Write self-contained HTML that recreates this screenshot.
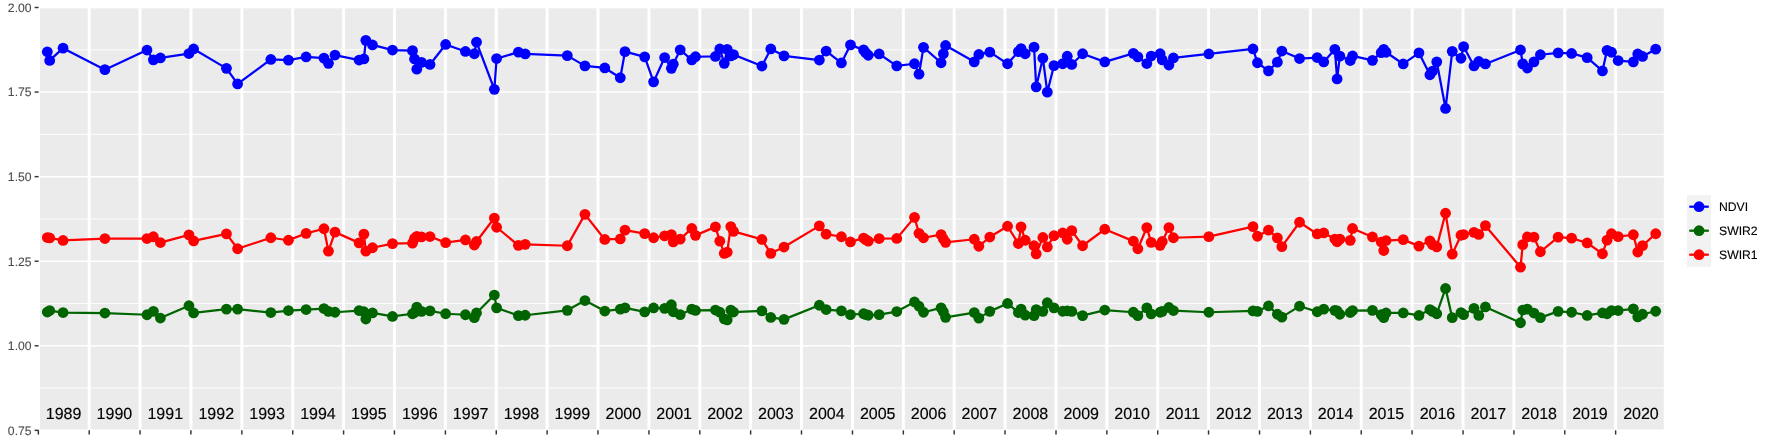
<!DOCTYPE html>
<html><head><meta charset="utf-8"><title>plot</title>
<style>
html,body{margin:0;padding:0;background:#fff;}
body{width:1773px;height:442px;overflow:hidden;}
svg{display:block;}
text{font-family:"Liberation Sans",sans-serif;text-rendering:geometricPrecision;}
svg text{filter:blur(0.01px);}
</style></head><body>
<svg width="1773" height="442" viewBox="0 0 1773 442">
<rect x="0" y="0" width="1773" height="442" fill="#ffffff"/>
<defs><clipPath id="pc"><rect x="40.0" y="8.2" width="1623.80" height="421.55"/></clipPath></defs>
<rect x="40.0" y="8.2" width="1623.80" height="421.55" fill="#EBEBEB"/>
<g clip-path="url(#pc)" stroke="#ffffff" fill="none">
<line x1="38.35" x2="1663.8" y1="388.07" y2="388.07" stroke-width="0.85"/>
<line x1="38.35" x2="1663.8" y1="303.50" y2="303.50" stroke-width="0.85"/>
<line x1="38.35" x2="1663.8" y1="218.93" y2="218.93" stroke-width="0.85"/>
<line x1="38.35" x2="1663.8" y1="134.36" y2="134.36" stroke-width="0.85"/>
<line x1="38.35" x2="1663.8" y1="49.79" y2="49.79" stroke-width="0.85"/>
<line x1="38.35" x2="1663.8" y1="430.35" y2="430.35" stroke-width="1.5"/>
<line x1="38.35" x2="1663.8" y1="345.78" y2="345.78" stroke-width="1.5"/>
<line x1="38.35" x2="1663.8" y1="261.21" y2="261.21" stroke-width="1.5"/>
<line x1="38.35" x2="1663.8" y1="176.64" y2="176.64" stroke-width="1.5"/>
<line x1="38.35" x2="1663.8" y1="92.07" y2="92.07" stroke-width="1.5"/>
<line x1="38.35" x2="1663.8" y1="7.50" y2="7.50" stroke-width="1.5"/>
<line x1="38.35" x2="38.35" y1="7.5" y2="430.35" stroke-width="3"/>
<line x1="89.20" x2="89.20" y1="7.5" y2="430.35" stroke-width="3"/>
<line x1="140.05" x2="140.05" y1="7.5" y2="430.35" stroke-width="3"/>
<line x1="190.89" x2="190.89" y1="7.5" y2="430.35" stroke-width="3"/>
<line x1="241.88" x2="241.88" y1="7.5" y2="430.35" stroke-width="3"/>
<line x1="292.73" x2="292.73" y1="7.5" y2="430.35" stroke-width="3"/>
<line x1="343.58" x2="343.58" y1="7.5" y2="430.35" stroke-width="3"/>
<line x1="394.43" x2="394.43" y1="7.5" y2="430.35" stroke-width="3"/>
<line x1="445.41" x2="445.41" y1="7.5" y2="430.35" stroke-width="3"/>
<line x1="496.26" x2="496.26" y1="7.5" y2="430.35" stroke-width="3"/>
<line x1="547.11" x2="547.11" y1="7.5" y2="430.35" stroke-width="3"/>
<line x1="597.96" x2="597.96" y1="7.5" y2="430.35" stroke-width="3"/>
<line x1="648.95" x2="648.95" y1="7.5" y2="430.35" stroke-width="3"/>
<line x1="699.79" x2="699.79" y1="7.5" y2="430.35" stroke-width="3"/>
<line x1="750.64" x2="750.64" y1="7.5" y2="430.35" stroke-width="3"/>
<line x1="801.49" x2="801.49" y1="7.5" y2="430.35" stroke-width="3"/>
<line x1="852.48" x2="852.48" y1="7.5" y2="430.35" stroke-width="3"/>
<line x1="903.33" x2="903.33" y1="7.5" y2="430.35" stroke-width="3"/>
<line x1="954.17" x2="954.17" y1="7.5" y2="430.35" stroke-width="3"/>
<line x1="1005.02" x2="1005.02" y1="7.5" y2="430.35" stroke-width="3"/>
<line x1="1056.01" x2="1056.01" y1="7.5" y2="430.35" stroke-width="3"/>
<line x1="1106.86" x2="1106.86" y1="7.5" y2="430.35" stroke-width="3"/>
<line x1="1157.71" x2="1157.71" y1="7.5" y2="430.35" stroke-width="3"/>
<line x1="1208.55" x2="1208.55" y1="7.5" y2="430.35" stroke-width="3"/>
<line x1="1259.54" x2="1259.54" y1="7.5" y2="430.35" stroke-width="3"/>
<line x1="1310.39" x2="1310.39" y1="7.5" y2="430.35" stroke-width="3"/>
<line x1="1361.24" x2="1361.24" y1="7.5" y2="430.35" stroke-width="3"/>
<line x1="1412.09" x2="1412.09" y1="7.5" y2="430.35" stroke-width="3"/>
<line x1="1463.07" x2="1463.07" y1="7.5" y2="430.35" stroke-width="3"/>
<line x1="1513.92" x2="1513.92" y1="7.5" y2="430.35" stroke-width="3"/>
<line x1="1564.77" x2="1564.77" y1="7.5" y2="430.35" stroke-width="3"/>
<line x1="1615.62" x2="1615.62" y1="7.5" y2="430.35" stroke-width="3"/>
</g>
<g clip-path="url(#pc)">
<polyline points="47.30,51.80 49.70,60.45 63.05,48.15 104.90,69.65 147.00,50.05 153.40,59.85 160.40,57.95 188.95,53.55 193.60,48.95 226.45,68.35 237.60,83.95 270.85,59.45 288.45,60.15 306.10,56.95 323.95,58.15 328.45,63.35 335.00,55.05 359.10,60.05 363.90,58.95 365.85,40.35 372.50,44.95 392.50,50.05 412.50,50.65 414.55,58.95 416.80,69.15 421.50,62.35 430.00,64.45 445.65,44.45 465.45,51.45 474.35,53.75 476.50,42.15 494.35,89.35 496.60,58.55 518.40,52.15 525.20,53.95 567.30,55.65 584.95,65.85 604.80,67.95 620.30,77.75 625.00,51.65 644.70,56.85 653.60,81.85 664.65,57.55 671.40,68.35 673.25,64.15 680.20,49.85 691.80,59.85 695.50,56.75 715.45,56.45 719.80,48.95 724.30,63.35 727.20,49.35 730.80,55.95 733.50,54.65 761.90,66.05 770.80,48.95 784.00,55.85 819.35,60.05 826.15,51.05 841.40,62.95 850.50,44.85 863.55,49.85 865.70,52.75 868.25,55.25 879.15,53.95 896.75,65.85 914.50,63.75 919.00,74.15 923.50,47.35 941.10,62.75 943.35,53.75 945.60,45.45 974.25,61.85 978.85,54.45 989.80,52.15 1007.55,63.75 1018.35,51.65 1021.05,48.55 1025.20,53.75 1034.05,47.15 1036.20,86.85 1042.85,58.15 1047.30,92.15 1053.95,65.65 1062.70,63.75 1067.25,56.25 1071.75,64.45 1082.60,53.75 1104.80,61.85 1133.35,53.35 1137.85,56.85 1146.80,63.55 1151.20,56.05 1160.15,53.75 1162.25,59.85 1168.90,65.05 1173.40,57.95 1208.85,53.95 1253.00,48.95 1257.45,62.75 1268.50,70.85 1277.35,62.15 1281.85,51.05 1299.55,58.55 1317.20,57.55 1323.75,61.95 1334.85,49.35 1337.10,78.95 1339.85,56.15 1350.25,60.55 1352.55,55.95 1372.45,60.35 1381.20,52.65 1383.75,49.35 1386.05,52.25 1403.25,63.95 1418.95,52.85 1429.90,74.75 1432.55,71.15 1436.75,61.85 1445.55,108.45 1452.25,51.35 1461.00,58.25 1463.60,46.65 1474.00,65.95 1478.80,61.45 1485.40,63.95 1520.50,49.95 1522.75,63.85 1527.40,68.05 1533.95,61.85 1540.40,54.75 1558.15,52.85 1571.60,53.45 1587.15,57.65 1602.45,70.95 1607.05,50.35 1611.50,52.25 1618.15,60.55 1633.35,61.85 1637.75,53.95 1642.55,56.45 1655.70,49.15" fill="none" stroke="#0000FF" stroke-width="2.25" stroke-linejoin="round" stroke-linecap="butt"/>
<g fill="#0000FF"><circle cx="47.30" cy="51.80" r="5.4"/><circle cx="49.70" cy="60.45" r="5.4"/><circle cx="63.05" cy="48.15" r="5.4"/><circle cx="104.90" cy="69.65" r="5.4"/><circle cx="147.00" cy="50.05" r="5.4"/><circle cx="153.40" cy="59.85" r="5.4"/><circle cx="160.40" cy="57.95" r="5.4"/><circle cx="188.95" cy="53.55" r="5.4"/><circle cx="193.60" cy="48.95" r="5.4"/><circle cx="226.45" cy="68.35" r="5.4"/><circle cx="237.60" cy="83.95" r="5.4"/><circle cx="270.85" cy="59.45" r="5.4"/><circle cx="288.45" cy="60.15" r="5.4"/><circle cx="306.10" cy="56.95" r="5.4"/><circle cx="323.95" cy="58.15" r="5.4"/><circle cx="328.45" cy="63.35" r="5.4"/><circle cx="335.00" cy="55.05" r="5.4"/><circle cx="359.10" cy="60.05" r="5.4"/><circle cx="363.90" cy="58.95" r="5.4"/><circle cx="365.85" cy="40.35" r="5.4"/><circle cx="372.50" cy="44.95" r="5.4"/><circle cx="392.50" cy="50.05" r="5.4"/><circle cx="412.50" cy="50.65" r="5.4"/><circle cx="414.55" cy="58.95" r="5.4"/><circle cx="416.80" cy="69.15" r="5.4"/><circle cx="421.50" cy="62.35" r="5.4"/><circle cx="430.00" cy="64.45" r="5.4"/><circle cx="445.65" cy="44.45" r="5.4"/><circle cx="465.45" cy="51.45" r="5.4"/><circle cx="474.35" cy="53.75" r="5.4"/><circle cx="476.50" cy="42.15" r="5.4"/><circle cx="494.35" cy="89.35" r="5.4"/><circle cx="496.60" cy="58.55" r="5.4"/><circle cx="518.40" cy="52.15" r="5.4"/><circle cx="525.20" cy="53.95" r="5.4"/><circle cx="567.30" cy="55.65" r="5.4"/><circle cx="584.95" cy="65.85" r="5.4"/><circle cx="604.80" cy="67.95" r="5.4"/><circle cx="620.30" cy="77.75" r="5.4"/><circle cx="625.00" cy="51.65" r="5.4"/><circle cx="644.70" cy="56.85" r="5.4"/><circle cx="653.60" cy="81.85" r="5.4"/><circle cx="664.65" cy="57.55" r="5.4"/><circle cx="671.40" cy="68.35" r="5.4"/><circle cx="673.25" cy="64.15" r="5.4"/><circle cx="680.20" cy="49.85" r="5.4"/><circle cx="691.80" cy="59.85" r="5.4"/><circle cx="695.50" cy="56.75" r="5.4"/><circle cx="715.45" cy="56.45" r="5.4"/><circle cx="719.80" cy="48.95" r="5.4"/><circle cx="724.30" cy="63.35" r="5.4"/><circle cx="727.20" cy="49.35" r="5.4"/><circle cx="730.80" cy="55.95" r="5.4"/><circle cx="733.50" cy="54.65" r="5.4"/><circle cx="761.90" cy="66.05" r="5.4"/><circle cx="770.80" cy="48.95" r="5.4"/><circle cx="784.00" cy="55.85" r="5.4"/><circle cx="819.35" cy="60.05" r="5.4"/><circle cx="826.15" cy="51.05" r="5.4"/><circle cx="841.40" cy="62.95" r="5.4"/><circle cx="850.50" cy="44.85" r="5.4"/><circle cx="863.55" cy="49.85" r="5.4"/><circle cx="865.70" cy="52.75" r="5.4"/><circle cx="868.25" cy="55.25" r="5.4"/><circle cx="879.15" cy="53.95" r="5.4"/><circle cx="896.75" cy="65.85" r="5.4"/><circle cx="914.50" cy="63.75" r="5.4"/><circle cx="919.00" cy="74.15" r="5.4"/><circle cx="923.50" cy="47.35" r="5.4"/><circle cx="941.10" cy="62.75" r="5.4"/><circle cx="943.35" cy="53.75" r="5.4"/><circle cx="945.60" cy="45.45" r="5.4"/><circle cx="974.25" cy="61.85" r="5.4"/><circle cx="978.85" cy="54.45" r="5.4"/><circle cx="989.80" cy="52.15" r="5.4"/><circle cx="1007.55" cy="63.75" r="5.4"/><circle cx="1018.35" cy="51.65" r="5.4"/><circle cx="1021.05" cy="48.55" r="5.4"/><circle cx="1025.20" cy="53.75" r="5.4"/><circle cx="1034.05" cy="47.15" r="5.4"/><circle cx="1036.20" cy="86.85" r="5.4"/><circle cx="1042.85" cy="58.15" r="5.4"/><circle cx="1047.30" cy="92.15" r="5.4"/><circle cx="1053.95" cy="65.65" r="5.4"/><circle cx="1062.70" cy="63.75" r="5.4"/><circle cx="1067.25" cy="56.25" r="5.4"/><circle cx="1071.75" cy="64.45" r="5.4"/><circle cx="1082.60" cy="53.75" r="5.4"/><circle cx="1104.80" cy="61.85" r="5.4"/><circle cx="1133.35" cy="53.35" r="5.4"/><circle cx="1137.85" cy="56.85" r="5.4"/><circle cx="1146.80" cy="63.55" r="5.4"/><circle cx="1151.20" cy="56.05" r="5.4"/><circle cx="1160.15" cy="53.75" r="5.4"/><circle cx="1162.25" cy="59.85" r="5.4"/><circle cx="1168.90" cy="65.05" r="5.4"/><circle cx="1173.40" cy="57.95" r="5.4"/><circle cx="1208.85" cy="53.95" r="5.4"/><circle cx="1253.00" cy="48.95" r="5.4"/><circle cx="1257.45" cy="62.75" r="5.4"/><circle cx="1268.50" cy="70.85" r="5.4"/><circle cx="1277.35" cy="62.15" r="5.4"/><circle cx="1281.85" cy="51.05" r="5.4"/><circle cx="1299.55" cy="58.55" r="5.4"/><circle cx="1317.20" cy="57.55" r="5.4"/><circle cx="1323.75" cy="61.95" r="5.4"/><circle cx="1334.85" cy="49.35" r="5.4"/><circle cx="1337.10" cy="78.95" r="5.4"/><circle cx="1339.85" cy="56.15" r="5.4"/><circle cx="1350.25" cy="60.55" r="5.4"/><circle cx="1352.55" cy="55.95" r="5.4"/><circle cx="1372.45" cy="60.35" r="5.4"/><circle cx="1381.20" cy="52.65" r="5.4"/><circle cx="1383.75" cy="49.35" r="5.4"/><circle cx="1386.05" cy="52.25" r="5.4"/><circle cx="1403.25" cy="63.95" r="5.4"/><circle cx="1418.95" cy="52.85" r="5.4"/><circle cx="1429.90" cy="74.75" r="5.4"/><circle cx="1432.55" cy="71.15" r="5.4"/><circle cx="1436.75" cy="61.85" r="5.4"/><circle cx="1445.55" cy="108.45" r="5.4"/><circle cx="1452.25" cy="51.35" r="5.4"/><circle cx="1461.00" cy="58.25" r="5.4"/><circle cx="1463.60" cy="46.65" r="5.4"/><circle cx="1474.00" cy="65.95" r="5.4"/><circle cx="1478.80" cy="61.45" r="5.4"/><circle cx="1485.40" cy="63.95" r="5.4"/><circle cx="1520.50" cy="49.95" r="5.4"/><circle cx="1522.75" cy="63.85" r="5.4"/><circle cx="1527.40" cy="68.05" r="5.4"/><circle cx="1533.95" cy="61.85" r="5.4"/><circle cx="1540.40" cy="54.75" r="5.4"/><circle cx="1558.15" cy="52.85" r="5.4"/><circle cx="1571.60" cy="53.45" r="5.4"/><circle cx="1587.15" cy="57.65" r="5.4"/><circle cx="1602.45" cy="70.95" r="5.4"/><circle cx="1607.05" cy="50.35" r="5.4"/><circle cx="1611.50" cy="52.25" r="5.4"/><circle cx="1618.15" cy="60.55" r="5.4"/><circle cx="1633.35" cy="61.85" r="5.4"/><circle cx="1637.75" cy="53.95" r="5.4"/><circle cx="1642.55" cy="56.45" r="5.4"/><circle cx="1655.70" cy="49.15" r="5.4"/></g>
<polyline points="47.30,312.05 49.70,310.55 63.05,312.55 104.90,313.05 147.00,314.75 153.40,311.35 160.40,318.05 188.95,305.75 193.60,312.95 226.45,309.15 237.60,309.15 270.85,312.55 288.45,310.55 306.10,309.55 323.95,308.55 328.45,311.35 335.00,312.25 359.10,310.55 363.90,311.75 365.85,319.05 372.50,312.95 392.50,316.45 412.50,313.75 414.55,312.55 416.80,307.15 421.50,311.35 430.00,310.85 445.65,313.75 465.45,314.75 474.35,317.65 476.50,312.95 494.35,295.05 496.60,307.85 518.40,315.65 525.20,315.25 567.30,310.35 584.95,300.55 604.80,311.05 620.30,309.15 625.00,307.85 644.70,311.85 653.60,307.95 664.65,308.35 671.40,304.75 673.25,311.75 680.20,314.65 691.80,309.15 695.50,310.45 715.45,310.05 719.80,312.25 724.30,318.85 727.20,319.85 730.80,310.05 733.50,312.05 761.90,310.85 770.80,317.45 784.00,319.35 819.35,305.25 826.15,309.55 841.40,310.85 850.50,314.65 863.55,313.75 865.70,314.55 868.25,315.25 879.15,314.65 896.75,311.55 914.50,301.95 919.00,306.25 923.50,312.25 941.10,307.85 943.35,311.75 945.60,317.35 974.25,312.55 978.85,318.15 989.80,311.35 1007.55,303.45 1018.35,312.55 1021.05,309.15 1025.20,315.15 1034.05,315.65 1036.20,309.65 1042.85,311.35 1047.30,302.75 1053.95,307.85 1062.70,311.25 1067.25,310.85 1071.75,311.35 1082.60,315.65 1104.80,310.05 1133.35,312.25 1137.85,315.65 1146.80,307.85 1151.20,313.95 1160.15,312.25 1162.25,311.35 1168.90,307.45 1173.40,310.55 1208.85,312.25 1253.00,310.85 1257.45,311.35 1268.50,305.95 1277.35,314.25 1281.85,317.15 1299.55,306.15 1317.20,311.75 1323.75,309.15 1334.85,310.35 1337.10,310.85 1339.85,314.25 1350.25,312.55 1352.55,310.55 1372.45,310.35 1381.20,314.65 1383.75,317.65 1386.05,312.95 1403.25,312.95 1418.95,315.45 1429.90,309.55 1432.55,311.35 1436.75,313.75 1445.55,288.45 1452.25,317.65 1461.00,312.55 1463.60,314.65 1474.00,308.35 1478.80,315.45 1485.40,306.95 1520.50,322.75 1522.75,310.05 1527.40,309.15 1533.95,313.05 1540.40,317.65 1558.15,311.35 1571.60,312.25 1587.15,315.45 1602.45,312.95 1607.05,313.75 1611.50,310.55 1618.15,310.55 1633.35,308.85 1637.75,316.85 1642.55,314.25 1655.70,311.25" fill="none" stroke="#006400" stroke-width="2.25" stroke-linejoin="round" stroke-linecap="butt"/>
<g fill="#006400"><circle cx="47.30" cy="312.05" r="5.4"/><circle cx="49.70" cy="310.55" r="5.4"/><circle cx="63.05" cy="312.55" r="5.4"/><circle cx="104.90" cy="313.05" r="5.4"/><circle cx="147.00" cy="314.75" r="5.4"/><circle cx="153.40" cy="311.35" r="5.4"/><circle cx="160.40" cy="318.05" r="5.4"/><circle cx="188.95" cy="305.75" r="5.4"/><circle cx="193.60" cy="312.95" r="5.4"/><circle cx="226.45" cy="309.15" r="5.4"/><circle cx="237.60" cy="309.15" r="5.4"/><circle cx="270.85" cy="312.55" r="5.4"/><circle cx="288.45" cy="310.55" r="5.4"/><circle cx="306.10" cy="309.55" r="5.4"/><circle cx="323.95" cy="308.55" r="5.4"/><circle cx="328.45" cy="311.35" r="5.4"/><circle cx="335.00" cy="312.25" r="5.4"/><circle cx="359.10" cy="310.55" r="5.4"/><circle cx="363.90" cy="311.75" r="5.4"/><circle cx="365.85" cy="319.05" r="5.4"/><circle cx="372.50" cy="312.95" r="5.4"/><circle cx="392.50" cy="316.45" r="5.4"/><circle cx="412.50" cy="313.75" r="5.4"/><circle cx="414.55" cy="312.55" r="5.4"/><circle cx="416.80" cy="307.15" r="5.4"/><circle cx="421.50" cy="311.35" r="5.4"/><circle cx="430.00" cy="310.85" r="5.4"/><circle cx="445.65" cy="313.75" r="5.4"/><circle cx="465.45" cy="314.75" r="5.4"/><circle cx="474.35" cy="317.65" r="5.4"/><circle cx="476.50" cy="312.95" r="5.4"/><circle cx="494.35" cy="295.05" r="5.4"/><circle cx="496.60" cy="307.85" r="5.4"/><circle cx="518.40" cy="315.65" r="5.4"/><circle cx="525.20" cy="315.25" r="5.4"/><circle cx="567.30" cy="310.35" r="5.4"/><circle cx="584.95" cy="300.55" r="5.4"/><circle cx="604.80" cy="311.05" r="5.4"/><circle cx="620.30" cy="309.15" r="5.4"/><circle cx="625.00" cy="307.85" r="5.4"/><circle cx="644.70" cy="311.85" r="5.4"/><circle cx="653.60" cy="307.95" r="5.4"/><circle cx="664.65" cy="308.35" r="5.4"/><circle cx="671.40" cy="304.75" r="5.4"/><circle cx="673.25" cy="311.75" r="5.4"/><circle cx="680.20" cy="314.65" r="5.4"/><circle cx="691.80" cy="309.15" r="5.4"/><circle cx="695.50" cy="310.45" r="5.4"/><circle cx="715.45" cy="310.05" r="5.4"/><circle cx="719.80" cy="312.25" r="5.4"/><circle cx="724.30" cy="318.85" r="5.4"/><circle cx="727.20" cy="319.85" r="5.4"/><circle cx="730.80" cy="310.05" r="5.4"/><circle cx="733.50" cy="312.05" r="5.4"/><circle cx="761.90" cy="310.85" r="5.4"/><circle cx="770.80" cy="317.45" r="5.4"/><circle cx="784.00" cy="319.35" r="5.4"/><circle cx="819.35" cy="305.25" r="5.4"/><circle cx="826.15" cy="309.55" r="5.4"/><circle cx="841.40" cy="310.85" r="5.4"/><circle cx="850.50" cy="314.65" r="5.4"/><circle cx="863.55" cy="313.75" r="5.4"/><circle cx="865.70" cy="314.55" r="5.4"/><circle cx="868.25" cy="315.25" r="5.4"/><circle cx="879.15" cy="314.65" r="5.4"/><circle cx="896.75" cy="311.55" r="5.4"/><circle cx="914.50" cy="301.95" r="5.4"/><circle cx="919.00" cy="306.25" r="5.4"/><circle cx="923.50" cy="312.25" r="5.4"/><circle cx="941.10" cy="307.85" r="5.4"/><circle cx="943.35" cy="311.75" r="5.4"/><circle cx="945.60" cy="317.35" r="5.4"/><circle cx="974.25" cy="312.55" r="5.4"/><circle cx="978.85" cy="318.15" r="5.4"/><circle cx="989.80" cy="311.35" r="5.4"/><circle cx="1007.55" cy="303.45" r="5.4"/><circle cx="1018.35" cy="312.55" r="5.4"/><circle cx="1021.05" cy="309.15" r="5.4"/><circle cx="1025.20" cy="315.15" r="5.4"/><circle cx="1034.05" cy="315.65" r="5.4"/><circle cx="1036.20" cy="309.65" r="5.4"/><circle cx="1042.85" cy="311.35" r="5.4"/><circle cx="1047.30" cy="302.75" r="5.4"/><circle cx="1053.95" cy="307.85" r="5.4"/><circle cx="1062.70" cy="311.25" r="5.4"/><circle cx="1067.25" cy="310.85" r="5.4"/><circle cx="1071.75" cy="311.35" r="5.4"/><circle cx="1082.60" cy="315.65" r="5.4"/><circle cx="1104.80" cy="310.05" r="5.4"/><circle cx="1133.35" cy="312.25" r="5.4"/><circle cx="1137.85" cy="315.65" r="5.4"/><circle cx="1146.80" cy="307.85" r="5.4"/><circle cx="1151.20" cy="313.95" r="5.4"/><circle cx="1160.15" cy="312.25" r="5.4"/><circle cx="1162.25" cy="311.35" r="5.4"/><circle cx="1168.90" cy="307.45" r="5.4"/><circle cx="1173.40" cy="310.55" r="5.4"/><circle cx="1208.85" cy="312.25" r="5.4"/><circle cx="1253.00" cy="310.85" r="5.4"/><circle cx="1257.45" cy="311.35" r="5.4"/><circle cx="1268.50" cy="305.95" r="5.4"/><circle cx="1277.35" cy="314.25" r="5.4"/><circle cx="1281.85" cy="317.15" r="5.4"/><circle cx="1299.55" cy="306.15" r="5.4"/><circle cx="1317.20" cy="311.75" r="5.4"/><circle cx="1323.75" cy="309.15" r="5.4"/><circle cx="1334.85" cy="310.35" r="5.4"/><circle cx="1337.10" cy="310.85" r="5.4"/><circle cx="1339.85" cy="314.25" r="5.4"/><circle cx="1350.25" cy="312.55" r="5.4"/><circle cx="1352.55" cy="310.55" r="5.4"/><circle cx="1372.45" cy="310.35" r="5.4"/><circle cx="1381.20" cy="314.65" r="5.4"/><circle cx="1383.75" cy="317.65" r="5.4"/><circle cx="1386.05" cy="312.95" r="5.4"/><circle cx="1403.25" cy="312.95" r="5.4"/><circle cx="1418.95" cy="315.45" r="5.4"/><circle cx="1429.90" cy="309.55" r="5.4"/><circle cx="1432.55" cy="311.35" r="5.4"/><circle cx="1436.75" cy="313.75" r="5.4"/><circle cx="1445.55" cy="288.45" r="5.4"/><circle cx="1452.25" cy="317.65" r="5.4"/><circle cx="1461.00" cy="312.55" r="5.4"/><circle cx="1463.60" cy="314.65" r="5.4"/><circle cx="1474.00" cy="308.35" r="5.4"/><circle cx="1478.80" cy="315.45" r="5.4"/><circle cx="1485.40" cy="306.95" r="5.4"/><circle cx="1520.50" cy="322.75" r="5.4"/><circle cx="1522.75" cy="310.05" r="5.4"/><circle cx="1527.40" cy="309.15" r="5.4"/><circle cx="1533.95" cy="313.05" r="5.4"/><circle cx="1540.40" cy="317.65" r="5.4"/><circle cx="1558.15" cy="311.35" r="5.4"/><circle cx="1571.60" cy="312.25" r="5.4"/><circle cx="1587.15" cy="315.45" r="5.4"/><circle cx="1602.45" cy="312.95" r="5.4"/><circle cx="1607.05" cy="313.75" r="5.4"/><circle cx="1611.50" cy="310.55" r="5.4"/><circle cx="1618.15" cy="310.55" r="5.4"/><circle cx="1633.35" cy="308.85" r="5.4"/><circle cx="1637.75" cy="316.85" r="5.4"/><circle cx="1642.55" cy="314.25" r="5.4"/><circle cx="1655.70" cy="311.25" r="5.4"/></g>
<polyline points="47.30,237.55 49.70,237.95 63.05,240.45 104.90,238.55 147.00,238.55 153.40,236.75 160.40,242.55 188.95,234.85 193.60,240.95 226.45,233.85 237.60,248.75 270.85,237.75 288.45,240.25 306.10,233.35 323.95,228.75 328.45,251.15 335.00,232.15 359.10,242.85 363.90,234.15 365.85,251.15 372.50,247.75 392.50,243.65 412.50,243.15 414.55,238.35 416.80,236.35 421.50,236.95 430.00,236.55 445.65,242.65 465.45,239.95 474.35,245.05 476.50,241.45 494.35,218.05 496.60,227.25 518.40,245.35 525.20,244.35 567.30,245.75 584.95,214.35 604.80,239.45 620.30,238.95 625.00,230.15 644.70,233.65 653.60,237.75 664.65,235.85 671.40,234.65 673.25,241.95 680.20,239.15 691.80,228.45 695.50,235.35 715.45,226.85 719.80,241.15 724.30,253.35 727.20,252.15 730.80,226.55 733.50,231.35 761.90,239.45 770.80,253.35 784.00,247.05 819.35,225.85 826.15,234.15 841.40,236.75 850.50,241.95 863.55,238.05 865.70,239.65 868.25,241.15 879.15,238.55 896.75,238.45 914.50,217.35 919.00,233.35 923.50,237.75 941.10,234.65 943.35,238.95 945.60,242.35 974.25,239.25 978.85,246.25 989.80,237.05 1007.55,226.25 1018.35,243.55 1021.05,226.85 1025.20,240.25 1034.05,245.75 1036.20,253.85 1042.85,237.45 1047.30,246.95 1053.95,235.75 1062.70,232.95 1067.25,239.25 1071.75,230.65 1082.60,245.75 1104.80,229.25 1133.35,241.15 1137.85,248.75 1146.80,227.55 1151.20,242.35 1160.15,245.35 1162.25,241.45 1168.90,227.55 1173.40,237.75 1208.85,236.65 1253.00,226.65 1257.45,236.25 1268.50,230.15 1277.35,237.85 1281.85,246.65 1299.55,222.25 1317.20,233.95 1323.75,232.95 1334.85,239.05 1337.10,241.75 1339.85,239.15 1350.25,240.35 1352.55,228.45 1372.45,236.95 1381.20,242.05 1383.75,250.55 1386.05,240.55 1403.25,239.65 1418.95,246.15 1429.90,240.85 1432.55,244.65 1436.75,246.85 1445.55,213.25 1452.25,254.15 1461.00,235.25 1463.60,234.55 1474.00,232.35 1478.80,234.45 1485.40,225.65 1520.50,267.15 1522.75,244.65 1527.40,236.95 1533.95,237.15 1540.40,251.75 1558.15,237.15 1571.60,238.15 1587.15,242.95 1602.45,253.75 1607.05,240.15 1611.50,233.75 1618.15,236.65 1633.35,234.75 1637.75,252.05 1642.55,245.65 1655.70,233.75" fill="none" stroke="#FF0000" stroke-width="2.25" stroke-linejoin="round" stroke-linecap="butt"/>
<g fill="#FF0000"><circle cx="47.30" cy="237.55" r="5.4"/><circle cx="49.70" cy="237.95" r="5.4"/><circle cx="63.05" cy="240.45" r="5.4"/><circle cx="104.90" cy="238.55" r="5.4"/><circle cx="147.00" cy="238.55" r="5.4"/><circle cx="153.40" cy="236.75" r="5.4"/><circle cx="160.40" cy="242.55" r="5.4"/><circle cx="188.95" cy="234.85" r="5.4"/><circle cx="193.60" cy="240.95" r="5.4"/><circle cx="226.45" cy="233.85" r="5.4"/><circle cx="237.60" cy="248.75" r="5.4"/><circle cx="270.85" cy="237.75" r="5.4"/><circle cx="288.45" cy="240.25" r="5.4"/><circle cx="306.10" cy="233.35" r="5.4"/><circle cx="323.95" cy="228.75" r="5.4"/><circle cx="328.45" cy="251.15" r="5.4"/><circle cx="335.00" cy="232.15" r="5.4"/><circle cx="359.10" cy="242.85" r="5.4"/><circle cx="363.90" cy="234.15" r="5.4"/><circle cx="365.85" cy="251.15" r="5.4"/><circle cx="372.50" cy="247.75" r="5.4"/><circle cx="392.50" cy="243.65" r="5.4"/><circle cx="412.50" cy="243.15" r="5.4"/><circle cx="414.55" cy="238.35" r="5.4"/><circle cx="416.80" cy="236.35" r="5.4"/><circle cx="421.50" cy="236.95" r="5.4"/><circle cx="430.00" cy="236.55" r="5.4"/><circle cx="445.65" cy="242.65" r="5.4"/><circle cx="465.45" cy="239.95" r="5.4"/><circle cx="474.35" cy="245.05" r="5.4"/><circle cx="476.50" cy="241.45" r="5.4"/><circle cx="494.35" cy="218.05" r="5.4"/><circle cx="496.60" cy="227.25" r="5.4"/><circle cx="518.40" cy="245.35" r="5.4"/><circle cx="525.20" cy="244.35" r="5.4"/><circle cx="567.30" cy="245.75" r="5.4"/><circle cx="584.95" cy="214.35" r="5.4"/><circle cx="604.80" cy="239.45" r="5.4"/><circle cx="620.30" cy="238.95" r="5.4"/><circle cx="625.00" cy="230.15" r="5.4"/><circle cx="644.70" cy="233.65" r="5.4"/><circle cx="653.60" cy="237.75" r="5.4"/><circle cx="664.65" cy="235.85" r="5.4"/><circle cx="671.40" cy="234.65" r="5.4"/><circle cx="673.25" cy="241.95" r="5.4"/><circle cx="680.20" cy="239.15" r="5.4"/><circle cx="691.80" cy="228.45" r="5.4"/><circle cx="695.50" cy="235.35" r="5.4"/><circle cx="715.45" cy="226.85" r="5.4"/><circle cx="719.80" cy="241.15" r="5.4"/><circle cx="724.30" cy="253.35" r="5.4"/><circle cx="727.20" cy="252.15" r="5.4"/><circle cx="730.80" cy="226.55" r="5.4"/><circle cx="733.50" cy="231.35" r="5.4"/><circle cx="761.90" cy="239.45" r="5.4"/><circle cx="770.80" cy="253.35" r="5.4"/><circle cx="784.00" cy="247.05" r="5.4"/><circle cx="819.35" cy="225.85" r="5.4"/><circle cx="826.15" cy="234.15" r="5.4"/><circle cx="841.40" cy="236.75" r="5.4"/><circle cx="850.50" cy="241.95" r="5.4"/><circle cx="863.55" cy="238.05" r="5.4"/><circle cx="865.70" cy="239.65" r="5.4"/><circle cx="868.25" cy="241.15" r="5.4"/><circle cx="879.15" cy="238.55" r="5.4"/><circle cx="896.75" cy="238.45" r="5.4"/><circle cx="914.50" cy="217.35" r="5.4"/><circle cx="919.00" cy="233.35" r="5.4"/><circle cx="923.50" cy="237.75" r="5.4"/><circle cx="941.10" cy="234.65" r="5.4"/><circle cx="943.35" cy="238.95" r="5.4"/><circle cx="945.60" cy="242.35" r="5.4"/><circle cx="974.25" cy="239.25" r="5.4"/><circle cx="978.85" cy="246.25" r="5.4"/><circle cx="989.80" cy="237.05" r="5.4"/><circle cx="1007.55" cy="226.25" r="5.4"/><circle cx="1018.35" cy="243.55" r="5.4"/><circle cx="1021.05" cy="226.85" r="5.4"/><circle cx="1025.20" cy="240.25" r="5.4"/><circle cx="1034.05" cy="245.75" r="5.4"/><circle cx="1036.20" cy="253.85" r="5.4"/><circle cx="1042.85" cy="237.45" r="5.4"/><circle cx="1047.30" cy="246.95" r="5.4"/><circle cx="1053.95" cy="235.75" r="5.4"/><circle cx="1062.70" cy="232.95" r="5.4"/><circle cx="1067.25" cy="239.25" r="5.4"/><circle cx="1071.75" cy="230.65" r="5.4"/><circle cx="1082.60" cy="245.75" r="5.4"/><circle cx="1104.80" cy="229.25" r="5.4"/><circle cx="1133.35" cy="241.15" r="5.4"/><circle cx="1137.85" cy="248.75" r="5.4"/><circle cx="1146.80" cy="227.55" r="5.4"/><circle cx="1151.20" cy="242.35" r="5.4"/><circle cx="1160.15" cy="245.35" r="5.4"/><circle cx="1162.25" cy="241.45" r="5.4"/><circle cx="1168.90" cy="227.55" r="5.4"/><circle cx="1173.40" cy="237.75" r="5.4"/><circle cx="1208.85" cy="236.65" r="5.4"/><circle cx="1253.00" cy="226.65" r="5.4"/><circle cx="1257.45" cy="236.25" r="5.4"/><circle cx="1268.50" cy="230.15" r="5.4"/><circle cx="1277.35" cy="237.85" r="5.4"/><circle cx="1281.85" cy="246.65" r="5.4"/><circle cx="1299.55" cy="222.25" r="5.4"/><circle cx="1317.20" cy="233.95" r="5.4"/><circle cx="1323.75" cy="232.95" r="5.4"/><circle cx="1334.85" cy="239.05" r="5.4"/><circle cx="1337.10" cy="241.75" r="5.4"/><circle cx="1339.85" cy="239.15" r="5.4"/><circle cx="1350.25" cy="240.35" r="5.4"/><circle cx="1352.55" cy="228.45" r="5.4"/><circle cx="1372.45" cy="236.95" r="5.4"/><circle cx="1381.20" cy="242.05" r="5.4"/><circle cx="1383.75" cy="250.55" r="5.4"/><circle cx="1386.05" cy="240.55" r="5.4"/><circle cx="1403.25" cy="239.65" r="5.4"/><circle cx="1418.95" cy="246.15" r="5.4"/><circle cx="1429.90" cy="240.85" r="5.4"/><circle cx="1432.55" cy="244.65" r="5.4"/><circle cx="1436.75" cy="246.85" r="5.4"/><circle cx="1445.55" cy="213.25" r="5.4"/><circle cx="1452.25" cy="254.15" r="5.4"/><circle cx="1461.00" cy="235.25" r="5.4"/><circle cx="1463.60" cy="234.55" r="5.4"/><circle cx="1474.00" cy="232.35" r="5.4"/><circle cx="1478.80" cy="234.45" r="5.4"/><circle cx="1485.40" cy="225.65" r="5.4"/><circle cx="1520.50" cy="267.15" r="5.4"/><circle cx="1522.75" cy="244.65" r="5.4"/><circle cx="1527.40" cy="236.95" r="5.4"/><circle cx="1533.95" cy="237.15" r="5.4"/><circle cx="1540.40" cy="251.75" r="5.4"/><circle cx="1558.15" cy="237.15" r="5.4"/><circle cx="1571.60" cy="238.15" r="5.4"/><circle cx="1587.15" cy="242.95" r="5.4"/><circle cx="1602.45" cy="253.75" r="5.4"/><circle cx="1607.05" cy="240.15" r="5.4"/><circle cx="1611.50" cy="233.75" r="5.4"/><circle cx="1618.15" cy="236.65" r="5.4"/><circle cx="1633.35" cy="234.75" r="5.4"/><circle cx="1637.75" cy="252.05" r="5.4"/><circle cx="1642.55" cy="245.65" r="5.4"/><circle cx="1655.70" cy="233.75" r="5.4"/></g>
</g>
<g font-size="16px" fill="#000000" text-anchor="middle" stroke="#000000" stroke-width="0.15">
<text x="63.57" y="419.4">1989</text>
<text x="114.41" y="419.4">1990</text>
<text x="165.26" y="419.4">1991</text>
<text x="216.25" y="419.4">1992</text>
<text x="267.10" y="419.4">1993</text>
<text x="317.95" y="419.4">1994</text>
<text x="368.79" y="419.4">1995</text>
<text x="419.78" y="419.4">1996</text>
<text x="470.63" y="419.4">1997</text>
<text x="521.48" y="419.4">1998</text>
<text x="572.33" y="419.4">1999</text>
<text x="623.31" y="419.4">2000</text>
<text x="674.16" y="419.4">2001</text>
<text x="725.01" y="419.4">2002</text>
<text x="775.86" y="419.4">2003</text>
<text x="826.84" y="419.4">2004</text>
<text x="877.69" y="419.4">2005</text>
<text x="928.54" y="419.4">2006</text>
<text x="979.39" y="419.4">2007</text>
<text x="1030.38" y="419.4">2008</text>
<text x="1081.22" y="419.4">2009</text>
<text x="1132.07" y="419.4">2010</text>
<text x="1182.92" y="419.4">2011</text>
<text x="1233.91" y="419.4">2012</text>
<text x="1284.76" y="419.4">2013</text>
<text x="1335.60" y="419.4">2014</text>
<text x="1386.45" y="419.4">2015</text>
<text x="1437.44" y="419.4">2016</text>
<text x="1488.29" y="419.4">2017</text>
<text x="1539.14" y="419.4">2018</text>
<text x="1589.98" y="419.4">2019</text>
<text x="1640.97" y="419.4">2020</text>
</g>
<g stroke="#333333" stroke-width="1.45" fill="none">
<line x1="34.65" x2="38.55" y1="430.35" y2="430.35"/>
<line x1="34.65" x2="38.55" y1="345.78" y2="345.78"/>
<line x1="34.65" x2="38.55" y1="261.21" y2="261.21"/>
<line x1="34.65" x2="38.55" y1="176.64" y2="176.64"/>
<line x1="34.65" x2="38.55" y1="92.07" y2="92.07"/>
<line x1="34.65" x2="38.55" y1="7.50" y2="7.50"/>
<line x1="38.35" x2="38.35" y1="430.35" y2="434.55"/>
<line x1="89.20" x2="89.20" y1="430.35" y2="434.55"/>
<line x1="140.05" x2="140.05" y1="430.35" y2="434.55"/>
<line x1="190.89" x2="190.89" y1="430.35" y2="434.55"/>
<line x1="241.88" x2="241.88" y1="430.35" y2="434.55"/>
<line x1="292.73" x2="292.73" y1="430.35" y2="434.55"/>
<line x1="343.58" x2="343.58" y1="430.35" y2="434.55"/>
<line x1="394.43" x2="394.43" y1="430.35" y2="434.55"/>
<line x1="445.41" x2="445.41" y1="430.35" y2="434.55"/>
<line x1="496.26" x2="496.26" y1="430.35" y2="434.55"/>
<line x1="547.11" x2="547.11" y1="430.35" y2="434.55"/>
<line x1="597.96" x2="597.96" y1="430.35" y2="434.55"/>
<line x1="648.95" x2="648.95" y1="430.35" y2="434.55"/>
<line x1="699.79" x2="699.79" y1="430.35" y2="434.55"/>
<line x1="750.64" x2="750.64" y1="430.35" y2="434.55"/>
<line x1="801.49" x2="801.49" y1="430.35" y2="434.55"/>
<line x1="852.48" x2="852.48" y1="430.35" y2="434.55"/>
<line x1="903.33" x2="903.33" y1="430.35" y2="434.55"/>
<line x1="954.17" x2="954.17" y1="430.35" y2="434.55"/>
<line x1="1005.02" x2="1005.02" y1="430.35" y2="434.55"/>
<line x1="1056.01" x2="1056.01" y1="430.35" y2="434.55"/>
<line x1="1106.86" x2="1106.86" y1="430.35" y2="434.55"/>
<line x1="1157.71" x2="1157.71" y1="430.35" y2="434.55"/>
<line x1="1208.55" x2="1208.55" y1="430.35" y2="434.55"/>
<line x1="1259.54" x2="1259.54" y1="430.35" y2="434.55"/>
<line x1="1310.39" x2="1310.39" y1="430.35" y2="434.55"/>
<line x1="1361.24" x2="1361.24" y1="430.35" y2="434.55"/>
<line x1="1412.09" x2="1412.09" y1="430.35" y2="434.55"/>
<line x1="1463.07" x2="1463.07" y1="430.35" y2="434.55"/>
<line x1="1513.92" x2="1513.92" y1="430.35" y2="434.55"/>
<line x1="1564.77" x2="1564.77" y1="430.35" y2="434.55"/>
<line x1="1615.62" x2="1615.62" y1="430.35" y2="434.55"/>
</g>
<g font-size="12.2px" fill="#4D4D4D" text-anchor="end" stroke="#4D4D4D" stroke-width="0.1">
<text x="31.6" y="434.70">0.75</text>
<text x="31.6" y="350.13">1.00</text>
<text x="31.6" y="265.56">1.25</text>
<text x="31.6" y="180.99">1.50</text>
<text x="31.6" y="96.42">1.75</text>
<text x="31.6" y="11.85">2.00</text>
</g>
<rect x="1687.1" y="195.10" width="23.9" height="23.9" fill="#F2F2F2"/>
<line x1="1689.30" x2="1708.80" y1="206.70" y2="206.70" stroke="#0000FF" stroke-width="2.25"/>
<circle cx="1699.05" cy="206.70" r="5.4" fill="#0000FF"/>
<text x="1719.0" y="211.10" font-size="12.2px" fill="#000000" stroke="#000000" stroke-width="0.12">NDVI</text>
<rect x="1687.1" y="219.00" width="23.9" height="23.9" fill="#F2F2F2"/>
<line x1="1689.30" x2="1708.80" y1="230.70" y2="230.70" stroke="#006400" stroke-width="2.25"/>
<circle cx="1699.05" cy="230.70" r="5.4" fill="#006400"/>
<text x="1719.0" y="235.10" font-size="12.2px" fill="#000000" stroke="#000000" stroke-width="0.12">SWIR2</text>
<rect x="1687.1" y="242.90" width="23.9" height="23.9" fill="#F2F2F2"/>
<line x1="1689.30" x2="1708.80" y1="254.70" y2="254.70" stroke="#FF0000" stroke-width="2.25"/>
<circle cx="1699.05" cy="254.70" r="5.4" fill="#FF0000"/>
<text x="1719.0" y="259.10" font-size="12.2px" fill="#000000" stroke="#000000" stroke-width="0.12">SWIR1</text>
</svg></body></html>
